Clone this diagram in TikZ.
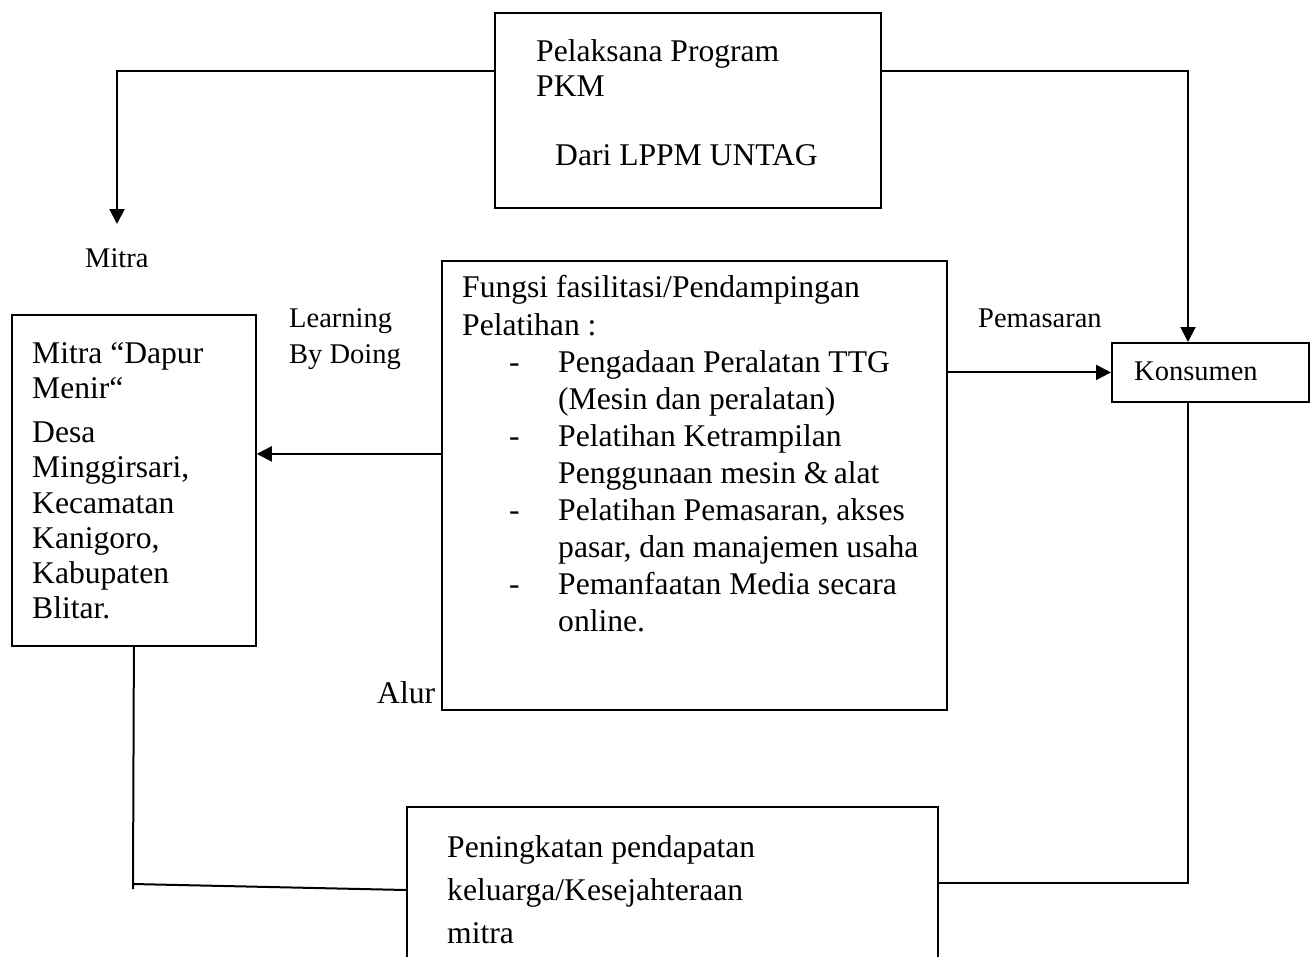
\documentclass[tikz,border=0pt]{standalone}
\usepackage{fontspec}
\setmainfont{Liberation Serif}
\usetikzlibrary{arrows.meta}
\tikzset{
  box/.style={draw, line width=1.8pt, rectangle, inner sep=0pt, anchor=north west},
  txt/.style={anchor=base west, inner sep=0pt, font=\fontsize{31.6}{37}\selectfont},
  lbl/.style={anchor=base west, inner sep=0pt, font=\fontsize{28.5}{34}\selectfont},
  conn/.style={line width=2pt},
  arr/.style={line width=2pt, -{Triangle[length=15pt,width=15pt]}},
}
\begin{document}
\begin{tikzpicture}[x=1pt,y=-1pt]
\clip (0,0) rectangle (1316,956);
\fill[white] (0,0) rectangle (1316,956);
% boxes
\node[box, minimum width=386pt, minimum height=195pt] (top) at (494,12) {};
\node[box, minimum width=505pt, minimum height=449pt] (mid) at (441,260) {};
\node[box, minimum width=244pt, minimum height=331pt] (left) at (11,314) {};
\node[box, minimum width=197pt, minimum height=59pt] (kons) at (1111,342) {};
\node[box, minimum width=531pt, minimum height=200pt] (bot) at (406,806) {};
% top box text
\node[txt] (t1) at (536,61) {Pelaksana Program};
\node[txt] (t2) at (536,96) {PKM};
\node[txt] (t3) at (555,165) {Dari LPPM UNTAG};
% middle box text
\node[txt] (m1) at (462,297) {Fungsi fasilitasi/Pendampingan};
\node[txt] (m2) at (462,335) {Pelatihan :};
\node[txt] (d1) at (509,372) {-};
\node[txt] (m3) at (558,372) {Pengadaan Peralatan TTG};
\node[txt] (m4) at (558,409) {(Mesin dan peralatan)};
\node[txt] (d2) at (509,446) {-};
\node[txt] (m5) at (558,446) {Pelatihan Ketrampilan};
\node[txt] (m6) at (558,483) {Penggunaan mesin \&\,alat};
\node[txt] (d3) at (509,520) {-};
\node[txt] (m7) at (558,520) {Pelatihan Pemasaran, akses};
\node[txt] (m8) at (558,557) {pasar, dan manajemen usaha};
\node[txt] (d4) at (509,594) {-};
\node[txt] (m9) at (558,594) {Pemanfaatan Media secara};
\node[txt] (m10) at (558,631) {online.};
% left box text
\node[txt] (l1) at (32,363) {Mitra “Dapur};
\node[txt] (l2) at (32,398) {Menir“};
\node[txt] (l3) at (32,442) {Desa};
\node[txt] (l4) at (32,477) {Minggirsari,};
\node[txt] (l5) at (32,513) {Kecamatan};
\node[txt] (l6) at (32,548) {Kanigoro,};
\node[txt] (l7) at (32,583) {Kabupaten};
\node[txt] (l8) at (32,618) {Blitar.};
% konsumen
\node[lbl] (k1) at (1134,380) {Konsumen};
% bottom box text
\node[txt] (b1) at (447,857) {Peningkatan pendapatan};
\node[txt] (b2) at (447,900) {keluarga/Kesejahteraan};
\node[txt] (b3) at (447,943) {mitra};
% labels
\node[lbl] (mitra) at (85,267) {Mitra};
\node[lbl] (lbd1) at (289,327) {Learning};
\node[lbl] (lbd2) at (289,363) {By Doing};
\node[lbl] (pem) at (978,327) {Pemasaran};
\node[txt] (alur) at (377,703) {Alur};
% connector points
\coordinate (mtip) at (117,224);
\coordinate (kdrop) at (1188,342);
\coordinate (lbend) at (133,889);
\coordinate (lstart) at (133,884);
\coordinate (bjoin) at (406,890);
\coordinate (rbend) at (1188,883);
\coordinate (rtop) at (1188,401);
% connectors
\draw[arr] ([yshift=-59pt]top.north west) -| (mtip);
\draw[arr] ([yshift=-59pt]top.north east) -| (kdrop);
\draw[arr] (mid.east |- kons.west) -- (kons.west);
\draw[arr] ([yshift=31.5pt]mid.west) coordinate (a1) -- (a1 -| left.east);
\draw[conn] (left.south) -- (lbend);
\draw[conn] (lstart) -- (bjoin);
\draw[conn] (rtop) -- (rbend) -- (bot.east |- rbend);
\end{tikzpicture}
\end{document}
